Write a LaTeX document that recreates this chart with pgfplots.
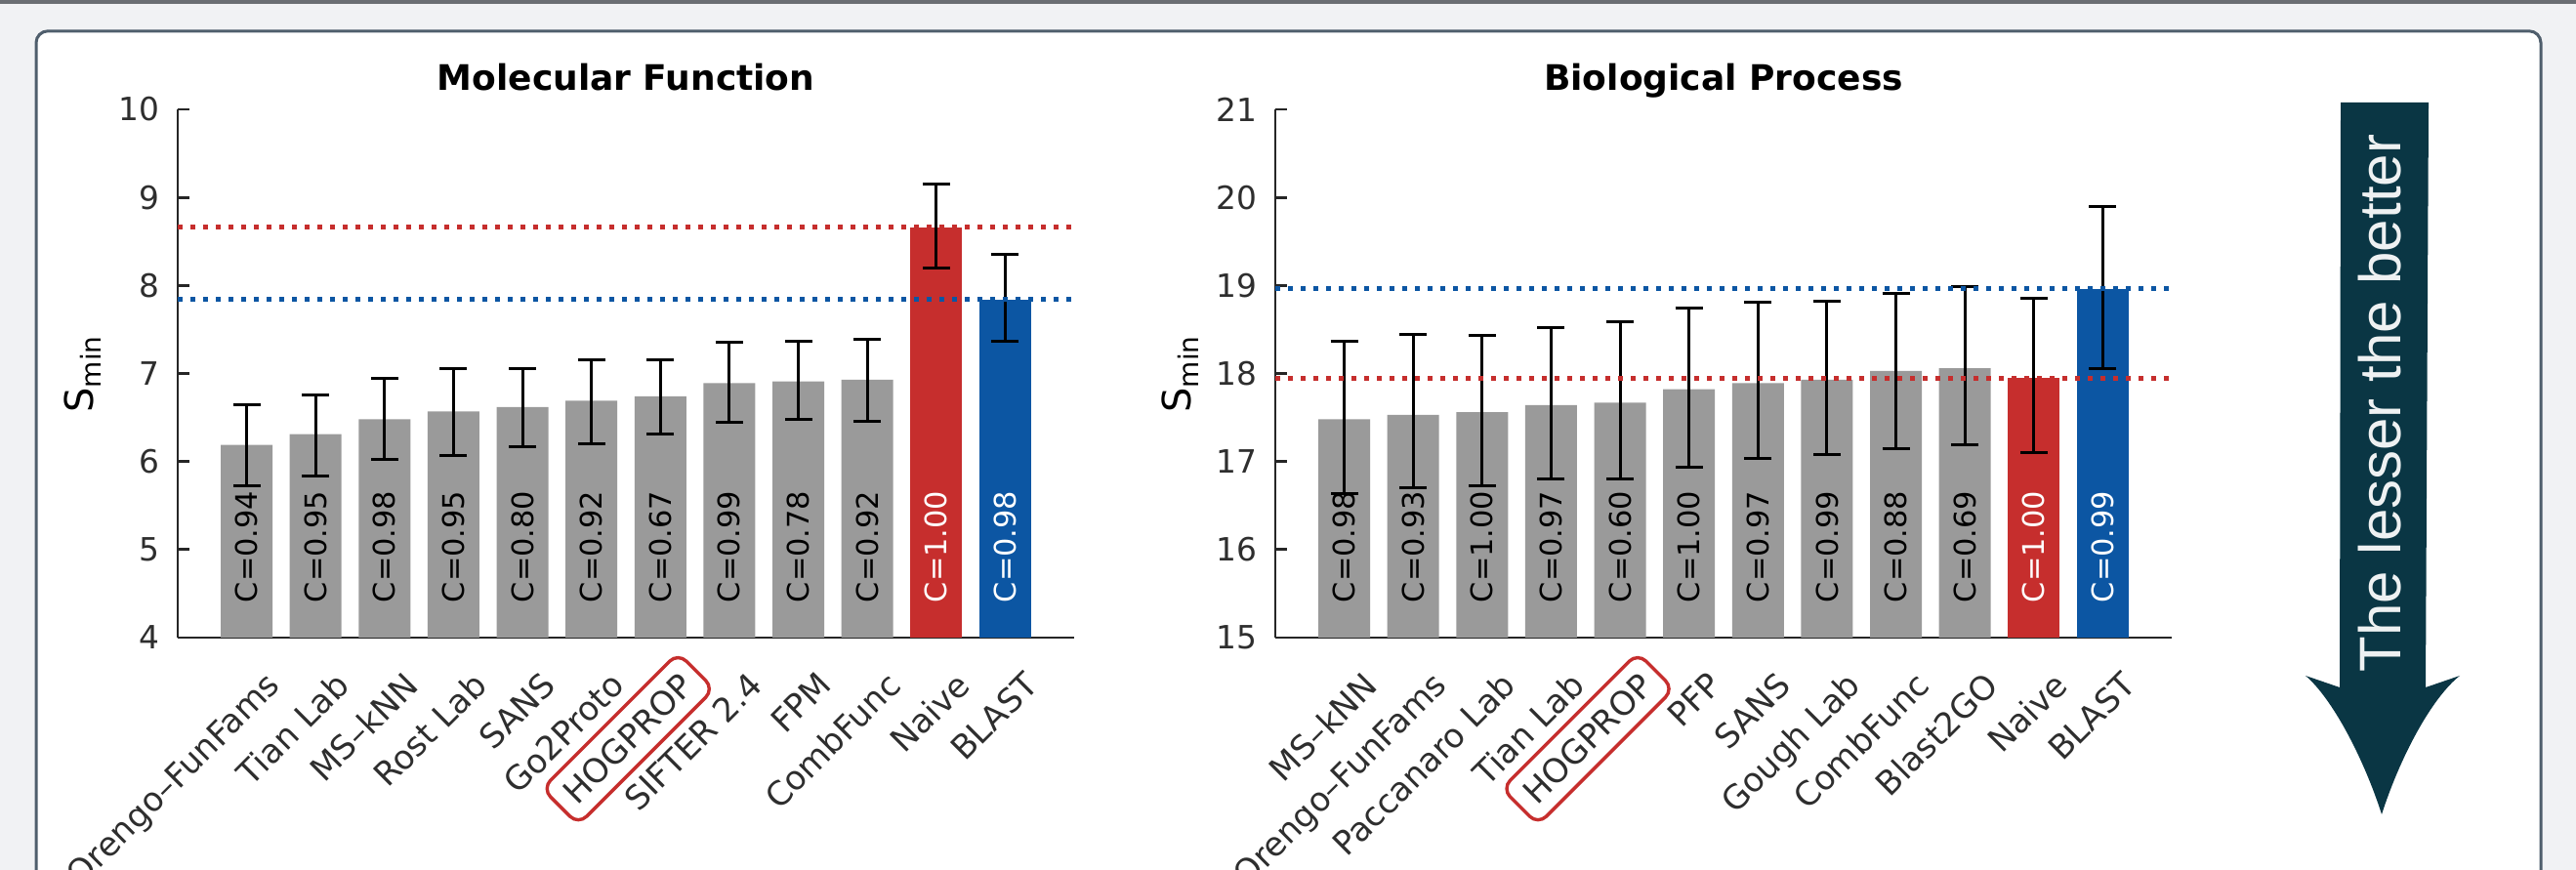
\documentclass[border=0pt]{standalone}
\usepackage{pgfplots}
\pgfplotsset{compat=1.18}
\usepackage{pgfplotstable}
\usepackage{fontspec}
\setmainfont{DejaVu Sans}
\newfontfamily\arrowfont{Liberation Sans}

\definecolor{bgc}{HTML}{F1F2F4}
\definecolor{topbar}{HTML}{6B6E73}
\definecolor{panelc}{HTML}{4F5E6C}
\definecolor{bargrey}{HTML}{9A9A9A}
\definecolor{myred}{HTML}{C62E2D}
\definecolor{myblue}{HTML}{0C56A3}
\definecolor{arrowc}{HTML}{0A3644}
\definecolor{axcol}{HTML}{262626}
\definecolor{tickc}{HTML}{2E2E2E}

\newcommand{\tickfont}{\fontsize{8.5bp}{10bp}\selectfont}
\newcommand{\ytickfont}{\fontsize{8.2bp}{10bp}\selectfont}
\newcommand{\clabfont}{\fontsize{7.6bp}{9bp}\selectfont}

% Molecular Function
\pgfplotstableread{
x y ep em b c
1 6.19 0.45 0.46 4.39 C=0.94
2 6.31 0.45 0.48 4.39 C=0.95
3 6.48 0.47 0.46 4.39 C=0.98
4 6.57 0.48 0.50 4.39 C=0.95
5 6.62 0.43 0.45 4.39 C=0.80
6 6.69 0.47 0.49 4.39 C=0.92
7 6.74 0.42 0.43 4.39 C=0.67
8 6.89 0.46 0.45 4.39 C=0.99
9 6.91 0.46 0.43 4.39 C=0.78
10 6.93 0.46 0.47 4.39 C=0.92
}\mfgrey
\pgfplotstableread{
x y ep em b c
11 8.66 0.49 0.46 4.39 C=1.00
}\mfred
\pgfplotstableread{
x y ep em b c
12 7.84 0.51 0.47 4.39 C=0.98
}\mfblue

% Biological Process
\pgfplotstableread{
x y ep em b c
1 17.48 0.89 0.84 15.39 C=0.98
2 17.53 0.91 0.83 15.39 C=0.93
3 17.56 0.87 0.84 15.39 C=1.00
4 17.64 0.88 0.84 15.39 C=0.97
5 17.67 0.92 0.87 15.39 C=0.60
6 17.82 0.92 0.88 15.39 C=1.00
7 17.89 0.92 0.86 15.39 C=0.97
8 17.93 0.89 0.85 15.39 C=0.99
9 18.03 0.88 0.88 15.39 C=0.88
10 18.06 0.93 0.87 15.39 C=0.69
}\bpgrey
\pgfplotstableread{
x y ep em b c
11 17.95 0.90 0.85 15.39 C=1.00
}\bpred
\pgfplotstableread{
x y ep em b c
12 18.96 0.94 0.90 15.39 C=0.99
}\bpblue

\pgfplotsset{
  myaxis/.style={
    scale only axis, width=229.5bp, height=135.25bp,
    xmin=0, xmax=13,
    axis lines*=left,
    axis line style={line width=0.7bp, color=axcol},
    xtick={1,...,12},
    xtick style={draw=none},
    major tick length=3bp, tick align=inside,
    ytick style={line width=0.7bp, color=axcol},
    tick label style={font=\tickfont, text=tickc},
    yticklabel style={font=\ytickfont},
    /pgf/number format/assume math mode=true,
    xticklabel style={xshift=4.5bp, yshift=-3.3bp, rotate=45, anchor=north east},
    yticklabel style={xshift=-1.1bp},
    title style={font=\fontsize{9bp}{10.8bp}\selectfont\bfseries, at={(0.5,1)}, anchor=base, yshift=-1bp},
    ylabel style={at={(axis description cs:-0.106,0.5)}, anchor=center, font=\fontsize{10bp}{12bp}\selectfont},
    ylabel={S\textsubscript{min}},
    extra x tick style={xtick style={draw=none}, xticklabel style={draw=myred, line width=0.85bp, rounded corners=3bp}},
    extra x tick labels={HOGPROP},
  },
  mybar/.style={ybar, bar width=13.25bp, bar shift=0pt, draw=none, fill=#1,
    error bars/.cd, y dir=both, y explicit,
    error bar style={draw=black, solid, line width=0.75bp},
    error mark options={rotate=90, draw=black, solid, line width=0.75bp, mark size=3.5bp}},
  mylab/.style={draw=none, nodes near coords, point meta=explicit symbolic,
    nodes near coords style={rotate=90, anchor=west, inner sep=0pt, font=\clabfont, text=#1}},
  myline/.style={#1, line width=1.25bp, dash pattern=on 1.25bp off 2bp},
}

\begin{document}
\begin{tikzpicture}
\path[use as bounding box] (0,0) rectangle (659.5bp,222.75bp);
\fill[bgc] (0,0) rectangle (659.5bp,222.75bp);
\fill[topbar] (0,221.75bp) rectangle (659.5bp,222.75bp);
\draw[panelc, line width=0.75bp, fill=white, rounded corners=3bp] (9.25bp,-10bp) rectangle (650.5bp,214.8bp);

\begin{axis}[myaxis, at={(45.5bp,59.5bp)}, anchor=south west,
  ymin=4, ymax=10, ytick={4,5,...,10},
  title={Molecular Function},
  extra x ticks={7},
  xticklabels={Orengo--FunFams, Tian Lab, MS--kNN, Rost Lab, SANS, Go2Proto, {}, SIFTER 2.4, FPM, CombFunc, Naive, BLAST}]
\addplot[mybar=bargrey] table[x=x, y=y, y error plus=ep, y error minus=em] {\mfgrey};
\addplot[mybar=myred] table[x=x, y=y, y error plus=ep, y error minus=em] {\mfred};
\addplot[mybar=myblue] table[x=x, y=y, y error plus=ep, y error minus=em] {\mfblue};
\addplot[myline=myred] coordinates {(0,8.66) (13,8.66)};
\addplot[myline=myblue] coordinates {(0,7.84) (13,7.84)};
\addplot[mylab=black] table[x=x, y=b, meta=c] {\mfgrey};
\addplot[mylab=white] table[x=x, y=b, meta=c] {\mfred};
\addplot[mylab=white] table[x=x, y=b, meta=c] {\mfblue};
\end{axis}

\begin{axis}[myaxis, at={(326.5bp,59.5bp)}, anchor=south west,
  ymin=15, ymax=21, ytick={15,16,...,21},
  title={Biological Process},
  extra x ticks={5},
  xticklabels={MS--kNN, Orengo--FunFams, Paccanaro Lab, Tian Lab, {}, PFP, SANS, Gough Lab, CombFunc, Blast2GO, Naive, BLAST}]
\addplot[mybar=bargrey] table[x=x, y=y, y error plus=ep, y error minus=em] {\bpgrey};
\addplot[mybar=myred] table[x=x, y=y, y error plus=ep, y error minus=em] {\bpred};
\addplot[mybar=myblue] table[x=x, y=y, y error plus=ep, y error minus=em] {\bpblue};
\addplot[myline=myred] coordinates {(0,17.95) (13,17.95)};
\addplot[myline=myblue] coordinates {(0,18.96) (13,18.96)};
\addplot[mylab=black] table[x=x, y=b, meta=c] {\bpgrey};
\addplot[mylab=white] table[x=x, y=b, meta=c] {\bpred};
\addplot[mylab=white] table[x=x, y=b, meta=c] {\bpblue};
\end{axis}

% arrow
\fill[arrowc] (599.25bp,196.5bp) -- (621.75bp,196.5bp) -- (621bp,46.75bp) -- (629.75bp,49.75bp)
  .. controls (622.5bp,44bp) and (614.5bp,29bp) .. (609.75bp,14.25bp)
  .. controls (605bp,29bp) and (597bp,44bp) .. (590.25bp,49.75bp)
  -- (599bp,46.75bp) -- cycle;
\node[rotate=90, anchor=center, inner sep=0pt, text=white!93!arrowc, font=\arrowfont\fontsize{15bp}{18bp}\selectfont] at (609.25bp,119.5bp) {The lesser the better};
\end{tikzpicture}
\end{document}
